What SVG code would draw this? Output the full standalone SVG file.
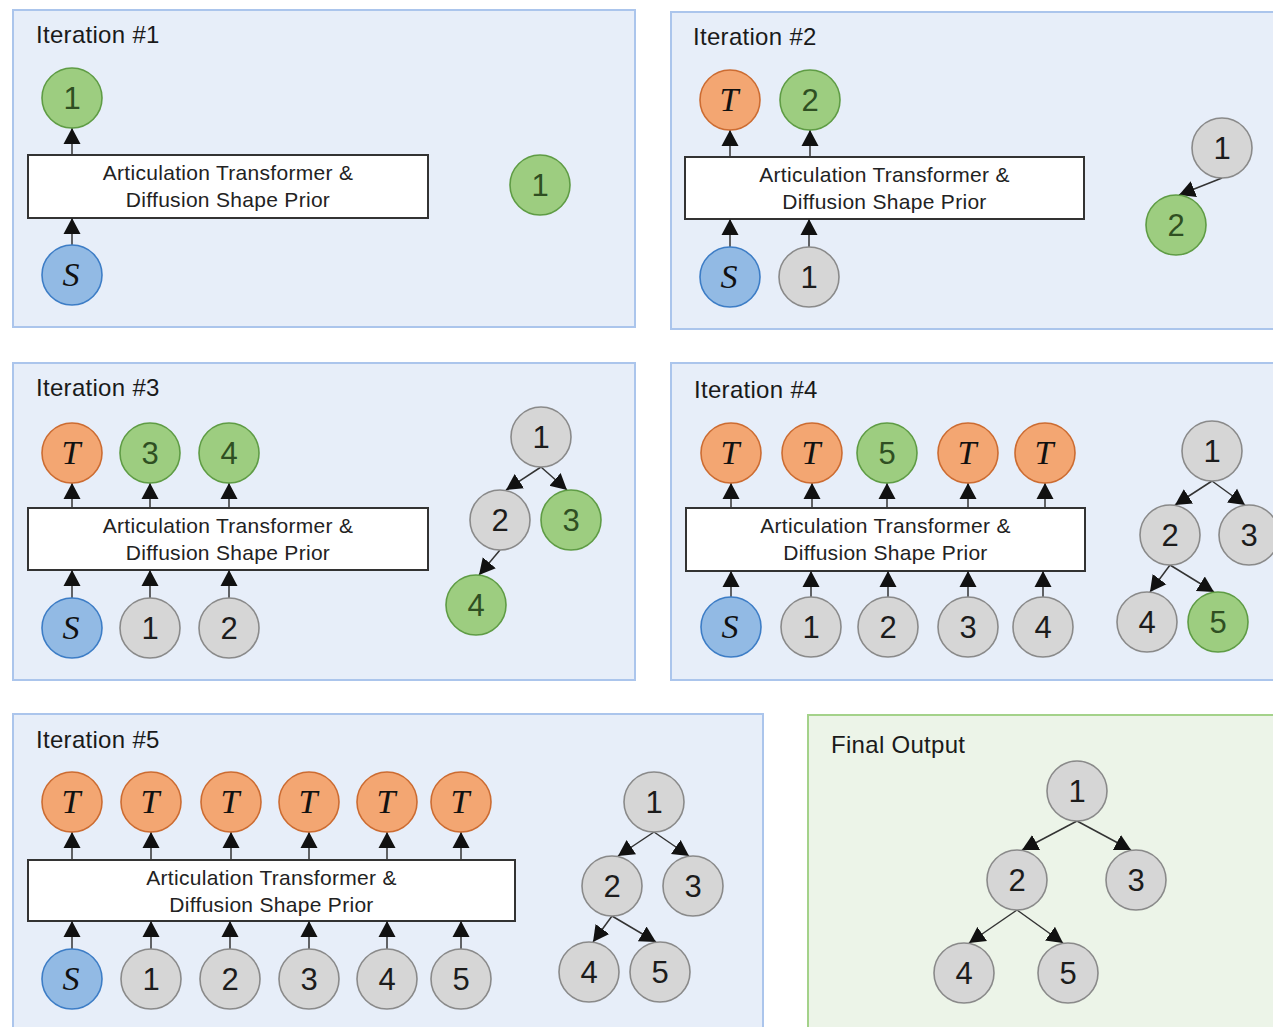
<svg xmlns="http://www.w3.org/2000/svg" width="1273" height="1027" viewBox="0 0 1273 1027">
<defs>
<style>
.panel{fill:#e7eef9;stroke:#abc5ec;stroke-width:2}
.final{fill:#ecf4e8;stroke:#a4d28a;stroke-width:2}
.title{font-family:"Liberation Sans",Arial,sans-serif;font-size:24px;letter-spacing:0.3px;fill:#1a1a1a}
.box{fill:#ffffff;stroke:#333333;stroke-width:2}
.boxt{font-family:"Liberation Sans",Arial,sans-serif;font-size:21px;letter-spacing:0.3px;fill:#222222;text-anchor:middle}
circle{stroke-width:1.6}
.g circle{fill:#d6d6d6;stroke:#8a8a8a}
.gr circle{fill:#9dcd80;stroke:#5f9c45}
.o circle{fill:#f3a672;stroke:#cc6c32}
.b circle{fill:#92bae4;stroke:#3d7dc6}
.num{font-family:"Liberation Sans",Arial,sans-serif;font-size:31px;text-anchor:middle;fill:#1c1c1c}
.gr .num{fill:#2f4f22}
.sym{font-family:"Liberation Serif","DejaVu Serif",serif;font-style:italic;font-size:34px;text-anchor:middle;fill:#111111}
.edge{stroke:#333333;stroke-width:1.5;fill:none;marker-end:url(#ah)}
</style>
<marker id="ah" markerUnits="userSpaceOnUse" markerWidth="18" markerHeight="18" viewBox="0 0 18 18" refX="16" refY="9" orient="auto">
<path d="M0,0.5L16,9L0,17.5z" fill="#111111"/>
</marker>
</defs>

<!-- panels -->
<g id="panels">
<rect class="panel" x="13" y="10" width="622" height="317"/>
<rect class="panel" x="671" y="12" width="620" height="317"/>
<rect class="panel" x="13" y="363" width="622" height="317"/>
<rect class="panel" x="671" y="363" width="620" height="317"/>
<rect class="panel" x="13" y="714" width="750" height="330"/>
<rect class="final" x="808" y="715" width="480" height="330"/>
<text class="title" x="36" y="43">Iteration #1</text>
<text class="title" x="693" y="45">Iteration #2</text>
<text class="title" x="36" y="396">Iteration #3</text>
<text class="title" x="694" y="398">Iteration #4</text>
<text class="title" x="36" y="748">Iteration #5</text>
<text class="title" x="831" y="753">Final Output</text>
</g>

<!-- model blocks -->
<g id="model1"><rect class="box" x="28" y="155" width="400" height="63"/><text class="boxt" x="228" y="180">Articulation Transformer &amp;</text><text class="boxt" x="228" y="207">Diffusion Shape Prior</text></g>
<g id="model2"><rect class="box" x="685" y="157" width="399" height="62"/><text class="boxt" x="884.5" y="182">Articulation Transformer &amp;</text><text class="boxt" x="884.5" y="209">Diffusion Shape Prior</text></g>
<g id="model3"><rect class="box" x="28" y="508" width="400" height="62"/><text class="boxt" x="228" y="533">Articulation Transformer &amp;</text><text class="boxt" x="228" y="560">Diffusion Shape Prior</text></g>
<g id="model4"><rect class="box" x="686" y="508" width="399" height="63"/><text class="boxt" x="885.5" y="533">Articulation Transformer &amp;</text><text class="boxt" x="885.5" y="560">Diffusion Shape Prior</text></g>
<g id="model5"><rect class="box" x="28" y="860" width="487" height="61"/><text class="boxt" x="271.5" y="885">Articulation Transformer &amp;</text><text class="boxt" x="271.5" y="912">Diffusion Shape Prior</text></g>

<!-- connectors -->
<g id="connectors">
<!-- iteration 1 -->
<line class="edge" x1="72" y1="155" x2="72" y2="128"/>
<line class="edge" x1="72" y1="245" x2="72" y2="218"/>
<!-- iteration 2 -->
<line class="edge" x1="730" y1="157" x2="730" y2="130"/>
<line class="edge" x1="810" y1="157" x2="810" y2="130"/>
<line class="edge" x1="730" y1="247" x2="730" y2="219"/>
<line class="edge" x1="809" y1="247" x2="809" y2="219"/>
<line class="edge" x1="1222" y1="178" x2="1179" y2="195"/>
<!-- iteration 3 -->
<line class="edge" x1="72" y1="508" x2="72" y2="483"/>
<line class="edge" x1="150" y1="508" x2="150" y2="483"/>
<line class="edge" x1="229" y1="508" x2="229" y2="483"/>
<line class="edge" x1="72" y1="598" x2="72" y2="570"/>
<line class="edge" x1="150" y1="598" x2="150" y2="570"/>
<line class="edge" x1="229" y1="598" x2="229" y2="570"/>
<line class="edge" x1="541" y1="467" x2="506" y2="490"/>
<line class="edge" x1="541" y1="467" x2="567" y2="490"/>
<line class="edge" x1="500" y1="550" x2="479" y2="575"/>
<!-- iteration 4 -->
<line class="edge" x1="731" y1="508" x2="731" y2="483"/>
<line class="edge" x1="812" y1="508" x2="812" y2="483"/>
<line class="edge" x1="887" y1="508" x2="887" y2="483"/>
<line class="edge" x1="968" y1="508" x2="968" y2="483"/>
<line class="edge" x1="1045" y1="508" x2="1045" y2="483"/>
<line class="edge" x1="731" y1="597" x2="731" y2="571"/>
<line class="edge" x1="811" y1="597" x2="811" y2="571"/>
<line class="edge" x1="888" y1="597" x2="888" y2="571"/>
<line class="edge" x1="968" y1="597" x2="968" y2="571"/>
<line class="edge" x1="1043" y1="597" x2="1043" y2="571"/>
<line class="edge" x1="1212" y1="481" x2="1175" y2="505"/>
<line class="edge" x1="1212" y1="481" x2="1245" y2="505"/>
<line class="edge" x1="1170" y1="565" x2="1150" y2="592"/>
<line class="edge" x1="1170" y1="565" x2="1214" y2="592"/>
<!-- iteration 5 -->
<line class="edge" x1="72" y1="860" x2="72" y2="832"/>
<line class="edge" x1="151" y1="860" x2="151" y2="832"/>
<line class="edge" x1="231" y1="860" x2="231" y2="832"/>
<line class="edge" x1="309" y1="860" x2="309" y2="832"/>
<line class="edge" x1="387" y1="860" x2="387" y2="832"/>
<line class="edge" x1="461" y1="860" x2="461" y2="832"/>
<line class="edge" x1="72" y1="949" x2="72" y2="921"/>
<line class="edge" x1="151" y1="949" x2="151" y2="921"/>
<line class="edge" x1="230" y1="949" x2="230" y2="921"/>
<line class="edge" x1="309" y1="949" x2="309" y2="921"/>
<line class="edge" x1="387" y1="949" x2="387" y2="921"/>
<line class="edge" x1="461" y1="949" x2="461" y2="921"/>
<line class="edge" x1="654" y1="832" x2="618" y2="856"/>
<line class="edge" x1="654" y1="832" x2="689" y2="856"/>
<line class="edge" x1="612" y1="916" x2="593" y2="942"/>
<line class="edge" x1="612" y1="916" x2="656" y2="942"/>
<!-- final output -->
<line class="edge" x1="1077" y1="821" x2="1022" y2="850"/>
<line class="edge" x1="1077" y1="821" x2="1131" y2="850"/>
<line class="edge" x1="1017" y1="910" x2="969" y2="943"/>
<line class="edge" x1="1017" y1="910" x2="1063" y2="943"/>
</g>

<!-- iteration 1 nodes -->
<g id="i1-out-1" class="gr"><circle cx="72" cy="98" r="30"/><text class="num" x="72" y="109">1</text></g>
<g id="i1-shape" class="b"><circle cx="72" cy="275" r="30"/><text class="sym" x="71" y="286">S</text></g>
<g id="i1-tree-1" class="gr"><circle cx="540" cy="185" r="30"/><text class="num" x="540" y="196">1</text></g>

<!-- iteration 2 nodes -->
<g id="i2-out-t" class="o"><circle cx="730" cy="100" r="30"/><text class="sym" x="729" y="111">T</text></g>
<g id="i2-out-2" class="gr"><circle cx="810" cy="100" r="30"/><text class="num" x="810" y="111">2</text></g>
<g id="i2-shape" class="b"><circle cx="730" cy="277" r="30"/><text class="sym" x="729" y="288">S</text></g>
<g id="i2-in-1" class="g"><circle cx="809" cy="277" r="30"/><text class="num" x="809" y="288">1</text></g>
<g id="i2-tree-1" class="g"><circle cx="1222" cy="148" r="30"/><text class="num" x="1222" y="159">1</text></g>
<g id="i2-tree-2" class="gr"><circle cx="1176" cy="225" r="30"/><text class="num" x="1176" y="236">2</text></g>

<!-- iteration 3 nodes -->
<g id="i3-out-t" class="o"><circle cx="72" cy="453" r="30"/><text class="sym" x="71" y="464">T</text></g>
<g id="i3-out-3" class="gr"><circle cx="150" cy="453" r="30"/><text class="num" x="150" y="464">3</text></g>
<g id="i3-out-4" class="gr"><circle cx="229" cy="453" r="30"/><text class="num" x="229" y="464">4</text></g>
<g id="i3-shape" class="b"><circle cx="72" cy="628" r="30"/><text class="sym" x="71" y="639">S</text></g>
<g id="i3-in-1" class="g"><circle cx="150" cy="628" r="30"/><text class="num" x="150" y="639">1</text></g>
<g id="i3-in-2" class="g"><circle cx="229" cy="628" r="30"/><text class="num" x="229" y="639">2</text></g>
<g id="i3-tree-1" class="g"><circle cx="541" cy="437" r="30"/><text class="num" x="541" y="448">1</text></g>
<g id="i3-tree-2" class="g"><circle cx="500" cy="520" r="30"/><text class="num" x="500" y="531">2</text></g>
<g id="i3-tree-3" class="gr"><circle cx="571" cy="520" r="30"/><text class="num" x="571" y="531">3</text></g>
<g id="i3-tree-4" class="gr"><circle cx="476" cy="605" r="30"/><text class="num" x="476" y="616">4</text></g>

<!-- iteration 4 nodes -->
<g id="i4-out-t1" class="o"><circle cx="731" cy="453" r="30"/><text class="sym" x="730" y="464">T</text></g>
<g id="i4-out-t2" class="o"><circle cx="812" cy="453" r="30"/><text class="sym" x="811" y="464">T</text></g>
<g id="i4-out-5" class="gr"><circle cx="887" cy="453" r="30"/><text class="num" x="887" y="464">5</text></g>
<g id="i4-out-t3" class="o"><circle cx="968" cy="453" r="30"/><text class="sym" x="967" y="464">T</text></g>
<g id="i4-out-t4" class="o"><circle cx="1045" cy="453" r="30"/><text class="sym" x="1044" y="464">T</text></g>
<g id="i4-shape" class="b"><circle cx="731" cy="627" r="30"/><text class="sym" x="730" y="638">S</text></g>
<g id="i4-in-1" class="g"><circle cx="811" cy="627" r="30"/><text class="num" x="811" y="638">1</text></g>
<g id="i4-in-2" class="g"><circle cx="888" cy="627" r="30"/><text class="num" x="888" y="638">2</text></g>
<g id="i4-in-3" class="g"><circle cx="968" cy="627" r="30"/><text class="num" x="968" y="638">3</text></g>
<g id="i4-in-4" class="g"><circle cx="1043" cy="627" r="30"/><text class="num" x="1043" y="638">4</text></g>
<g id="i4-tree-1" class="g"><circle cx="1212" cy="451" r="30"/><text class="num" x="1212" y="462">1</text></g>
<g id="i4-tree-2" class="g"><circle cx="1170" cy="535" r="30"/><text class="num" x="1170" y="546">2</text></g>
<g id="i4-tree-3" class="g"><circle cx="1249" cy="535" r="30"/><text class="num" x="1249" y="546">3</text></g>
<g id="i4-tree-4" class="g"><circle cx="1147" cy="622" r="30"/><text class="num" x="1147" y="633">4</text></g>
<g id="i4-tree-5" class="gr"><circle cx="1218" cy="622" r="30"/><text class="num" x="1218" y="633">5</text></g>

<!-- iteration 5 nodes -->
<g id="i5-out-t1" class="o"><circle cx="72" cy="802" r="30"/><text class="sym" x="71" y="813">T</text></g>
<g id="i5-out-t2" class="o"><circle cx="151" cy="802" r="30"/><text class="sym" x="150" y="813">T</text></g>
<g id="i5-out-t3" class="o"><circle cx="231" cy="802" r="30"/><text class="sym" x="230" y="813">T</text></g>
<g id="i5-out-t4" class="o"><circle cx="309" cy="802" r="30"/><text class="sym" x="308" y="813">T</text></g>
<g id="i5-out-t5" class="o"><circle cx="387" cy="802" r="30"/><text class="sym" x="386" y="813">T</text></g>
<g id="i5-out-t6" class="o"><circle cx="461" cy="802" r="30"/><text class="sym" x="460" y="813">T</text></g>
<g id="i5-shape" class="b"><circle cx="72" cy="979" r="30"/><text class="sym" x="71" y="990">S</text></g>
<g id="i5-in-1" class="g"><circle cx="151" cy="979" r="30"/><text class="num" x="151" y="990">1</text></g>
<g id="i5-in-2" class="g"><circle cx="230" cy="979" r="30"/><text class="num" x="230" y="990">2</text></g>
<g id="i5-in-3" class="g"><circle cx="309" cy="979" r="30"/><text class="num" x="309" y="990">3</text></g>
<g id="i5-in-4" class="g"><circle cx="387" cy="979" r="30"/><text class="num" x="387" y="990">4</text></g>
<g id="i5-in-5" class="g"><circle cx="461" cy="979" r="30"/><text class="num" x="461" y="990">5</text></g>
<g id="i5-tree-1" class="g"><circle cx="654" cy="802" r="30"/><text class="num" x="654" y="813">1</text></g>
<g id="i5-tree-2" class="g"><circle cx="612" cy="886" r="30"/><text class="num" x="612" y="897">2</text></g>
<g id="i5-tree-3" class="g"><circle cx="693" cy="886" r="30"/><text class="num" x="693" y="897">3</text></g>
<g id="i5-tree-4" class="g"><circle cx="589" cy="972" r="30"/><text class="num" x="589" y="983">4</text></g>
<g id="i5-tree-5" class="g"><circle cx="660" cy="972" r="30"/><text class="num" x="660" y="983">5</text></g>

<!-- final output tree -->
<g id="final-1" class="g"><circle cx="1077" cy="791" r="30"/><text class="num" x="1077" y="802">1</text></g>
<g id="final-2" class="g"><circle cx="1017" cy="880" r="30"/><text class="num" x="1017" y="891">2</text></g>
<g id="final-3" class="g"><circle cx="1136" cy="880" r="30"/><text class="num" x="1136" y="891">3</text></g>
<g id="final-4" class="g"><circle cx="964" cy="973" r="30"/><text class="num" x="964" y="984">4</text></g>
<g id="final-5" class="g"><circle cx="1068" cy="973" r="30"/><text class="num" x="1068" y="984">5</text></g>
</svg>
